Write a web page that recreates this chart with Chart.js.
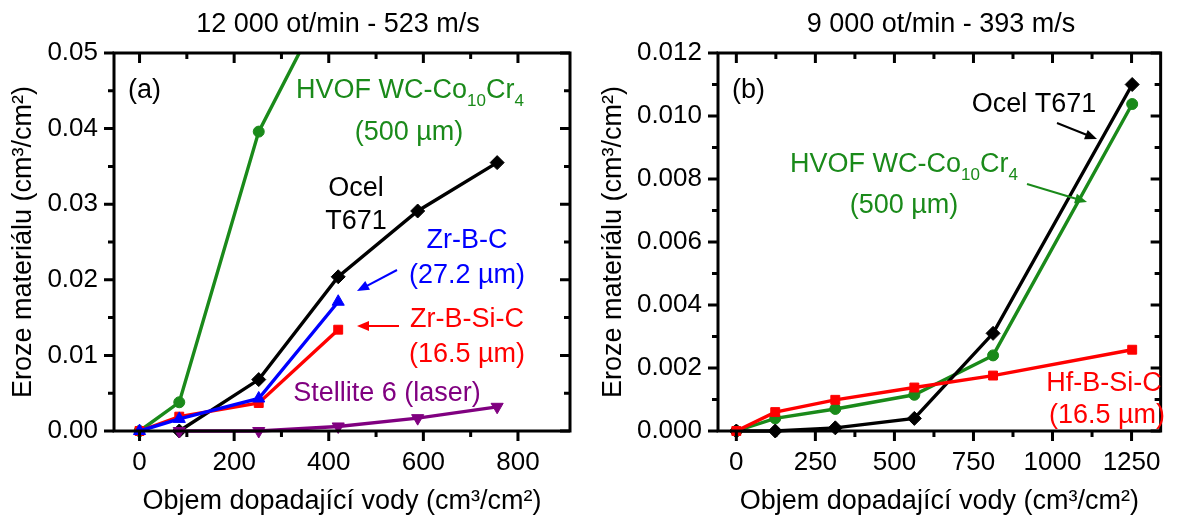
<!DOCTYPE html>
<html>
<head>
<meta charset="utf-8">
<script src="https://cdn.jsdelivr.net/npm/chart.js@4.4.1/dist/chart.umd.min.js"></script>
<style>
  html, body { margin: 0; padding: 0; background: #fff; }
  #wrap { position: relative; width: 1177px; height: 515px; }
  #boxA { position: absolute; left: 0; top: 0; width: 590px; height: 515px; }
  #boxB { position: absolute; left: 590px; top: 0; width: 587px; height: 515px; }
</style>
</head>
<body>
<div id="wrap">
  <div id="boxA"><canvas id="chartA"></canvas></div>
  <div id="boxB"><canvas id="chartB"></canvas></div>
</div>
<script>
const FONT = "'Liberation Sans', Arial, sans-serif";
const GREEN = '#1a8a1a', RED = '#ff0000', BLUE = '#0000ff', PURPLE = '#800080';

// (a) 12 000 ot/min
const xTicksA = [0, 200, 400, 600, 800];
const yTicksA = [0, 0.01, 0.02, 0.03, 0.04, 0.05];
const hvofAX = [0, 84, 252, 420];
const hvofAY = [0, 0.0038, 0.0396, 0.0600];
const ocelAX = [84, 252, 420, 588, 756];
const ocelAY = [0, 0.0068, 0.0204, 0.0291, 0.0355];
const zrbcAX = [0, 84, 252, 420];
const zrbcAY = [0, 0.0016, 0.0043, 0.0171];
const zrbsicAX = [0, 84, 252, 420];
const zrbsicAY = [0, 0.0019, 0.0037, 0.0134];
const stelAX = [84, 252, 420, 588, 756];
const stelAY = [0, 0, 0.0006, 0.0017, 0.0032];

// (b) 9 000 ot/min
const xTicksB = [0, 250, 500, 750, 1000, 1250];
const yTicksB = [0, 0.002, 0.004, 0.006, 0.008, 0.010, 0.012];
const bX = [0, 123, 313, 563, 812, 1252];
const ocelBY = [0, 0, 0.0001, 0.0004, 0.0031, 0.0110];
const hvofBY = [0, 0.0004, 0.0007, 0.00115, 0.0024, 0.01038];
const hfbsicBY = [0, 0.0006, 0.00099, 0.00138, 0.00176, 0.00258];

function pts(xs, ys) {
  return xs.map((x, i) => ({ x: x, y: ys[i] }));
}

function series(xs, ys, color, shape, r, extra) {
  return Object.assign({
    data: pts(xs, ys),
    borderColor: color,
    backgroundColor: color,
    borderWidth: 3.4,
    pointStyle: shape,
    pointRadius: r,
    pointBorderWidth: 1,
    clip: false
  }, extra || {});
}

const fnt = (s) => s + 'px ' + FONT;

// frame + tick marks (major/minor, outward on left/bottom, inward on top/right)
const frame = {
  id: 'frame',
  afterDatasetsDraw(chart) {
    const { ctx, chartArea: a, scales } = chart;
    const sx = scales.x, sy = scales.y;
    const mids = (t) => t.slice(1).map((v, i) => (v + t[i]) / 2);
    const xs = sx.ticks.map(t => t.value), ys = sy.ticks.map(t => t.value);
    ctx.save();
    ctx.strokeStyle = '#000';
    ctx.lineWidth = 3;
    ctx.beginPath();
    const tx = (v, len) => {
      const p = sx.getPixelForValue(v);
      ctx.moveTo(p, a.bottom); ctx.lineTo(p, a.bottom + len);
      ctx.moveTo(p, a.top); ctx.lineTo(p, a.top + len);
    };
    const ty = (v, len) => {
      const p = sy.getPixelForValue(v);
      ctx.moveTo(a.left, p); ctx.lineTo(a.left - len, p);
      ctx.moveTo(a.right, p); ctx.lineTo(a.right - len, p);
    };
    xs.forEach(v => tx(v, 10));
    mids(xs).forEach(v => tx(v, 6));
    ys.forEach(v => ty(v, 10));
    mids(ys).forEach(v => ty(v, 6));
    ctx.stroke();
    ctx.strokeRect(a.left, a.top, a.right - a.left, a.bottom - a.top);
    ctx.restore();
  }
};

function arrow(ctx, x1, y1, x2, y2, c) {
  const ang = Math.atan2(y2 - y1, x2 - x1);
  ctx.strokeStyle = c; ctx.fillStyle = c; ctx.lineWidth = 2;
  ctx.beginPath();
  ctx.moveTo(x1, y1);
  ctx.lineTo(x2 - 8 * Math.cos(ang), y2 - 8 * Math.sin(ang));
  ctx.stroke();
  ctx.beginPath();
  ctx.moveTo(x2, y2);
  ctx.lineTo(x2 - 12 * Math.cos(ang) + 5 * Math.sin(ang), y2 - 12 * Math.sin(ang) - 5 * Math.cos(ang));
  ctx.lineTo(x2 - 12 * Math.cos(ang) - 5 * Math.sin(ang), y2 - 12 * Math.sin(ang) + 5 * Math.cos(ang));
  ctx.closePath();
  ctx.fill();
}

// text labels, titles and arrows
const notes = {
  id: 'notes',
  afterDraw(chart, args, o) {
    const ctx = chart.ctx;
    ctx.save();
    ctx.textBaseline = 'alphabetic';
    ctx.fillStyle = '#000';
    ctx.font = fnt(27);
    ctx.textAlign = 'center';
    ctx.fillText(o.title[0], o.title[1], o.title[2]);
    ctx.textAlign = 'left';
    o.items.forEach(it => {
      let w = 0;
      it.p.forEach(part => { ctx.font = fnt(part[1] ? 17 : 27); w += ctx.measureText(part[0]).width; });
      let x = it.a === 'center' ? it.x - w / 2 : it.x;
      ctx.fillStyle = it.c;
      it.p.forEach(part => {
        ctx.font = fnt(part[1] ? 17 : 27);
        ctx.fillText(part[0], x, part[1] ? it.y + 8 : it.y);
        x += ctx.measureText(part[0]).width;
      });
    });
    o.arrows.forEach(r => arrow(ctx, r[0], r[1], r[2], r[3], r[4]));
    ctx.restore();
  }
};

function scales(xMin, xMax, xTicks, yMax, yTicks, dec, yWidth) {
  return {
    x: {
      type: 'linear', min: xMin, max: xMax,
      afterBuildTicks: s => { s.ticks = xTicks.map(v => ({ value: v })); },
      afterFit: s => { s.height = 84; },
      grid: { display: false, drawTicks: false },
      border: { display: false },
      ticks: { font: { family: FONT, size: 26 }, color: '#000', padding: 16, maxRotation: 0, autoSkip: false, callback: v => String(v) },
      title: { display: true, text: 'Objem dopadající vody (cm³/cm²)', color: '#000', font: { family: FONT, size: 27, lineHeight: 1 }, padding: 0 }
    },
    y: {
      type: 'linear', min: 0, max: yMax,
      afterBuildTicks: s => { s.ticks = yTicks.map(v => ({ value: v })); },
      afterFit: s => { s.width = yWidth; },
      grid: { display: false, drawTicks: false },
      border: { display: false },
      ticks: { font: { family: FONT, size: 26 }, color: '#000', padding: 16, autoSkip: false, callback: v => v.toFixed(dec) },
      title: { display: true, text: 'Eroze materiálu (cm³/cm²)', color: '#000', font: { family: FONT, size: 27, lineHeight: 1 }, padding: { top: 10, bottom: 0 } }
    }
  };
}

const common = (pad) => ({
  responsive: true,
  maintainAspectRatio: false,
  animation: false,
  layout: { padding: pad },
  plugins: { legend: { display: false }, tooltip: { enabled: false } }
});

const optsA = common({ top: 53, right: 20, left: 0, bottom: 0 });
optsA.scales = scales(-54, 910, xTicksA, 0.05, yTicksA, 2, 114);
optsA.plugins.notes = {
  title: ['12 000 ot/min - 523 m/s', 338, 32],
  items: [
    { p: [['(a)']], x: 128, y: 98, c: '#000', a: 'left' },
    { p: [['HVOF WC-Co'], ['10', 1], ['Cr'], ['4', 1]], x: 296, y: 98, c: GREEN, a: 'left' },
    { p: [['(500 µm)']], x: 409, y: 140, c: GREEN, a: 'center' },
    { p: [['Ocel']], x: 356, y: 196, c: '#000', a: 'center' },
    { p: [['T671']], x: 356, y: 229, c: '#000', a: 'center' },
    { p: [['Zr-B-C']], x: 467, y: 248, c: BLUE, a: 'center' },
    { p: [['(27.2 µm)']], x: 467, y: 283, c: BLUE, a: 'center' },
    { p: [['Zr-B-Si-C']], x: 467, y: 327, c: RED, a: 'center' },
    { p: [['(16.5 µm)']], x: 467, y: 362, c: RED, a: 'center' },
    { p: [['Stellite 6 (laser)']], x: 387, y: 401, c: PURPLE, a: 'center' }
  ],
  arrows: [[397, 270, 357, 291, BLUE], [399, 326, 357, 326, RED]]
};

new Chart(document.getElementById('chartA'), {
  type: 'line',
  data: {
    datasets: [
      series(stelAX, stelAY, PURPLE, 'triangle', 7, { pointRotation: 180 }),
      series(zrbcAX, zrbcAY, BLUE, 'triangle', 7),
      series(zrbsicAX, zrbsicAY, RED, 'rect', 6.3),
      series(ocelAX, ocelAY, '#000', 'rectRot', 7),
      series(hvofAX, hvofAY, GREEN, 'circle', 5.5, { clip: { left: false, top: 0, right: false, bottom: false } })
    ]
  },
  options: optsA,
  plugins: [frame, notes]
});

const optsB = common({ top: 53, right: 5, left: 0, bottom: 0 });
optsB.scales = scales(-58, 1342, xTicksB, 0.012, yTicksB, 3, 128);
optsB.plugins.notes = {
  title: ['9 000 ot/min - 393 m/s', 351, 32],
  items: [
    { p: [['(b)']], x: 142, y: 98, c: '#000', a: 'left' },
    { p: [['Ocel T671']], x: 444, y: 112, c: '#000', a: 'center' },
    { p: [['HVOF WC-Co'], ['10', 1], ['Cr'], ['4', 1]], x: 200, y: 172, c: GREEN, a: 'left' },
    { p: [['(500 µm)']], x: 314, y: 213, c: GREEN, a: 'center' },
    { p: [['Hf-B-Si-C']], x: 514, y: 391, c: RED, a: 'center' },
    { p: [['(16.5 µm)']], x: 517, y: 423, c: RED, a: 'center' }
  ],
  arrows: [[467, 123, 507, 139, '#000'], [437, 184, 497, 202, GREEN]]
};

new Chart(document.getElementById('chartB'), {
  type: 'line',
  data: {
    datasets: [
      series(bX, hfbsicBY, RED, 'rect', 6.3),
      series(bX, ocelBY, '#000', 'rectRot', 7),
      series(bX, hvofBY, GREEN, 'circle', 5.5)
    ]
  },
  options: optsB,
  plugins: [frame, notes]
});
</script>
</body>
</html>
